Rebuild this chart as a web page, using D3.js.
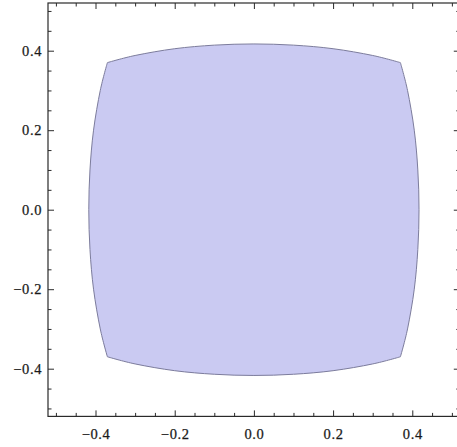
<!DOCTYPE html>
<html>
<head>
    <meta charset="utf-8">
    <script src="https://cdn.jsdelivr.net/npm/d3@7"></script>
    <style>
        body { margin: 0; background: white; }
        svg { display: block; }
        svg text { font-family: "Liberation Serif", "DejaVu Serif", serif !important; }
    </style>
</head>
<body>
<script>
    //data - boundary of the region, one list per side
    const topSide = [[-0.37, 0.37], [-0.3, 0.388], [-0.2, 0.405], [-0.1, 0.414], [0, 0.417],
        [0.1, 0.414], [0.2, 0.405], [0.3, 0.388], [0.37, 0.37]];
    const rightSide = [[0.37, 0.37], [0.388, 0.3], [0.405, 0.2], [0.414, 0.1], [0.417, 0],
        [0.414, -0.1], [0.405, -0.2], [0.388, -0.3], [0.37, -0.37]];
    const bottomSide = [[0.37, -0.37], [0.3, -0.388], [0.2, -0.405], [0.1, -0.414], [0, -0.417],
        [-0.1, -0.414], [-0.2, -0.405], [-0.3, -0.388], [-0.37, -0.37]];
    const leftSide = [[-0.37, -0.37], [-0.388, -0.3], [-0.405, -0.2], [-0.414, -0.1], [-0.417, 0],
        [-0.414, 0.1], [-0.405, 0.2], [-0.388, 0.3], [-0.37, 0.37]];

    const majorTicks = [-0.4, -0.2, 0.0, 0.2, 0.4];
    const minorTicks = [-0.5, -0.45, -0.35, -0.3, -0.25, -0.15, -0.1, -0.05,
        0.05, 0.1, 0.15, 0.25, 0.3, 0.35, 0.45, 0.5];
    const plotRange = [-0.52, 0.52];

    let width = 457, height = 447;
    let mLeft = 48, mTop = 3, mRight = 459.8, mBottom = 416.4;

    let svg = d3.select("body").append("svg")
        .attr("width", width)
        .attr("height", height);

    let x = d3.scaleLinear().domain(plotRange).range([mLeft, mRight]);
    let y = d3.scaleLinear().domain(plotRange).range([mBottom, mTop]);

    //region
    let line = d3.line()
        .x(d => x(d[0]))
        .y(d => y(d[1]))
        .curve(d3.curveCardinal);

    let pathStr = [topSide, rightSide, bottomSide, leftSide]
        .map((side, i) => {
            let s = line(side);
            return i === 0 ? s : "L" + s.slice(1);
        }).join("") + "Z";

    svg.append("path")
        .attr("d", pathStr)
        .attr("fill", "#cacaf2")
        .attr("stroke", "#7c7c9c")
        .attr("stroke-width", 1);

    //frame
    svg.append("rect")
        .attr("x", mLeft)
        .attr("y", mTop)
        .attr("width", mRight - mLeft)
        .attr("height", mBottom - mTop)
        .attr("fill", "none")
        .attr("stroke", "#2a2a2a")
        .attr("stroke-width", 1.2);

    let fmt = d3.format(".1f");

    function addAxis(axisFn, scale, transform, labels) {
        let major = axisFn(scale).tickValues(majorTicks).tickSize(-6)
            .tickPadding(axisFn === d3.axisBottom ? 12 : 6)
            .tickFormat(labels ? fmt : "");
        let minor = axisFn(scale).tickValues(minorTicks).tickSize(-3.5).tickFormat("");
        let g1 = svg.append("g").attr("transform", transform).call(major);
        let g2 = svg.append("g").attr("transform", transform).call(minor);
        g1.select(".domain").remove();
        g2.select(".domain").remove();
        [g1, g2].forEach(g => {
            g.selectAll(".tick line").attr("stroke", "#2a2a2a");
            g.selectAll(".tick text")
                .style("font-size", "14.5px")
                .style("letter-spacing", "0.6px")
                .attr("fill", "#1a1a1a")
                .attr("stroke", "#1a1a1a")
                .attr("stroke-width", 0.25);
        });
    }

    addAxis(d3.axisBottom, x, `translate(0,${mBottom})`, true);
    addAxis(d3.axisLeft, y, `translate(${mLeft},0)`, true);
    addAxis(d3.axisTop, x, `translate(0,${mTop})`, false);
    addAxis(d3.axisRight, y, `translate(${mRight},0)`, false);
</script>
</body>
</html>
